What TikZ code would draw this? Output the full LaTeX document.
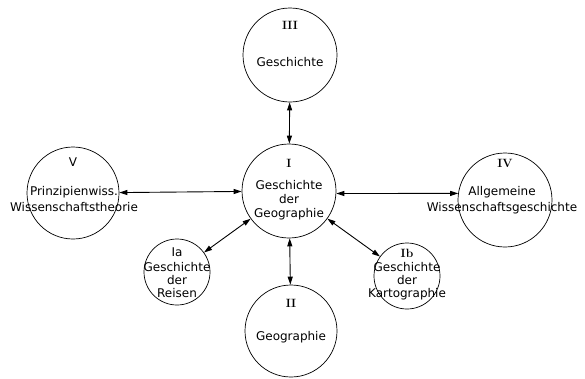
\documentclass[tikz,border=0pt]{standalone}
\usepackage{fontspec}
\setsansfont{DejaVu Sans}
\usetikzlibrary{arrows.meta}
\begin{document}
\begin{tikzpicture}[x=1pt,y=-1pt]
        \tikzstyle{field}=[circle,draw=black,line width=0.7pt,inner sep=0pt]
        \tikzstyle{big}=[field,minimum size=94pt]
        \tikzstyle{small}=[field,minimum size=66pt]
        \tikzstyle{txt}=[align=center,inner sep=0pt,font=\sffamily\fontsize{12}{14}\selectfont]
        \tikzstyle{num}=[inner sep=0pt,font=\rmfamily\bfseries\fontsize{12}{12}\selectfont]
        \tikzstyle{snum}=[inner sep=0pt,font=\sffamily\fontsize{12}{12}\selectfont]
        \tikzstyle{edge}=[draw,line width=0.9pt,<->,>={Triangle[length=8pt,width=5pt]}]
        \useasboundingbox (0,0) rectangle (585,378);
       \begin{scope}
         % circles
         \node [big] (gg) at (289,191) {};
         \node [big] (gesch) at (290,55) {};
         \node [big,minimum size=92pt] (geo) at (291,331) {};
         \node [big,minimum size=92pt] (prinz) at (73,193) {};
         \node [big] (allg) at (505,200) {};
         \node [small] (reisen) at (177,272) {};
         \node [small] (karto) at (407,276) {};

         % numbers and texts
         \node [num] (gg-n) at (289,163) {I};
         \node [txt] (gg-t) at (289,200) {Geschichte\\der\\Geographie};
         \node [num] (gesch-n) at (290,25) {III};
         \node [txt] (gesch-t) at (290,62) {Geschichte};
         \node [num] (geo-n) at (291,303) {II};
         \node [txt] (geo-t) at (291,337) {Geographie};
         \node [snum] (prinz-n) at (73,162) {V};
         \node [txt,font=\sffamily\fontsize{12}{15.5}\selectfont] (prinz-t) at (74,199) {Prinzipienwiss.\\Wissenschaftstheorie};
         \node [num] (allg-n) at (505,163) {IV};
         \node [txt,font=\sffamily\fontsize{12}{16.5}\selectfont] (allg-t) at (502,200) {Allgemeine\\Wissenschaftsgeschichte};
         \node [snum] (reisen-n) at (177,252) {Ia};
         \node [txt,font=\sffamily\fontsize{12}{12.8}\selectfont] (reisen-t) at (177,280) {Geschichte\\der\\Reisen};
         \node [num] (karto-n) at (407,253) {Ib};
         \node [txt,font=\sffamily\fontsize{12}{12.8}\selectfont] (karto-t) at (407,281) {Geschichte\\der\\Kartographie};

         % arrows
         \draw[edge] (gg) -- (gesch);
         \draw[edge] (gg) -- (geo);
         \draw[edge] (gg) -- (prinz);
         \draw[edge] (gg.-3.7) -- (allg.172.7);
         \draw[edge] (gg) -- (reisen);
         \draw[edge] (gg) -- (karto);
        \end{scope}
      \end{tikzpicture}
\end{document}
